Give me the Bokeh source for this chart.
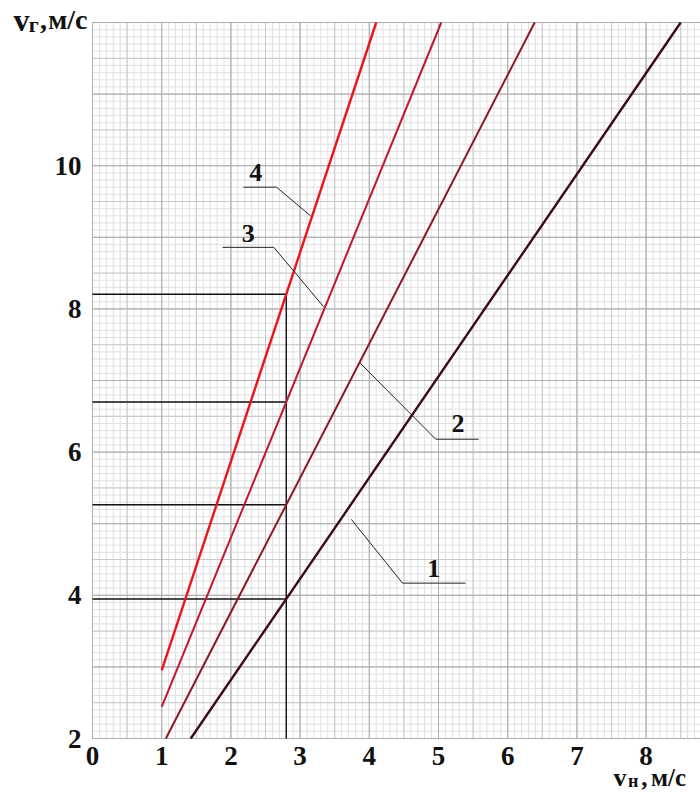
from bokeh.plotting import figure
from bokeh.models import Range1d, Label, ColumnDataSource
from bokeh.core.properties import value
from bokeh.embed import file_html
from bokeh.resources import INLINE

# Characteristic lines v_г(v_н): start and end points of each straight line
curve_ids = ["1", "2", "3", "4"]
v_n_start = [1.42, 1.06, 1.00, 1.00]
v_g_start = [2.00, 2.00, 2.44, 2.95]
v_n_end = [8.50, 6.39, 5.04, 4.10]
v_g_end = [12.00, 12.00, 12.00, 12.00]
curve_colors = ["#3a0b16", "#8a1828", "#c0182c", "#e8161c"]
curve_widths = [2.4, 2.0, 2.0, 2.4]

# Read-out at a chosen v_н
v_n_read = 2.8

x_ticks = [0, 1, 2, 3, 4, 5, 6, 7, 8]
y_ticks = [2, 4, 6, 8, 10]

# Paper area in data units
X_MIN, X_MAX = 0.0, 8.786
Y_MIN, Y_MAX = 2.0, 12.0
# Plot margins in pixels and scale (px per unit)
PX_X, PX_Y = 69.2, 71.6
LEFT, RIGHT, TOP, BOTTOM = 92, 0, 22, 55
SERIF = "Liberation Serif"
INK = "#111111"

p = figure(width=700, height=793,
           x_range=Range1d(X_MIN - LEFT / PX_X, X_MAX + RIGHT / PX_X),
           y_range=Range1d(Y_MIN - BOTTOM / PX_Y, Y_MAX + TOP / PX_Y),
           x_axis_type=None, y_axis_type=None,
           output_backend="svg", toolbar_location=None,
           min_border=0)
p.outline_line_color = None
p.grid.visible = False
p.background_fill_color = "white"
p.border_fill_color = "white"

# Millimetre-paper grid: fine 0.1, medium 0.5, bold 1.0
fine_x = [round(i * 0.1, 2) for i in range(0, 88)]
fine_y = [round(2 + i * 0.1, 2) for i in range(0, 101)]
mid_x = [round(i * 0.5, 2) for i in range(0, 18)]
mid_y = [round(2 + i * 0.5, 2) for i in range(0, 21)]
major_x = list(range(0, 9))
major_y = list(range(2, 13))

for gx, gy, color in ((fine_x, fine_y, "#e0e0e0"),
                      (mid_x, mid_y, "#c9c9c9"),
                      (major_x, major_y, "#aeaeae")):
    p.segment(x0=gx, y0=[Y_MIN] * len(gx), x1=gx, y1=[Y_MAX] * len(gx),
              line_color=color, line_width=1)
    p.segment(x0=[X_MIN] * len(gy), y0=gy, x1=[X_MAX] * len(gy), y1=gy,
              line_color=color, line_width=1)

# Tick labels
p.text(x=x_ticks, y=[Y_MIN] * len(x_ticks), text=[str(t) for t in x_ticks],
       text_font=value(SERIF), text_font_style="bold", text_font_size="27px",
       text_color=INK, text_align="center", text_baseline="top", y_offset=8)
p.text(x=[X_MIN] * len(y_ticks), y=y_ticks, text=[str(t) for t in y_ticks],
       text_font=value(SERIF), text_font_style="bold", text_font_size="27px",
       text_color=INK, text_align="right", text_baseline="middle", x_offset=-11)

# Read-out lines
slopes = [(ge - gs) / (ne - ns) for ns, gs, ne, ge in zip(v_n_start, v_g_start, v_n_end, v_g_end)]
v_g_read = [gs + k * (v_n_read - ns) for ns, gs, k in zip(v_n_start, v_g_start, slopes)]
p.segment(x0=[X_MIN] * 4, y0=v_g_read, x1=[v_n_read] * 4, y1=v_g_read,
          line_color=INK, line_width=1.4)
p.segment(x0=[v_n_read], y0=[Y_MIN], x1=[v_n_read], y1=[max(v_g_read)],
          line_color=INK, line_width=1.4)

# Characteristic lines
src = ColumnDataSource(dict(x0=v_n_start, y0=v_g_start, x1=v_n_end, y1=v_g_end,
                            color=curve_colors, width=curve_widths))
p.segment(x0="x0", y0="y0", x1="x1", y1="y1", source=src,
          line_color="color", line_width="width")

# Leader lines and curve numbers
leaders = {
    "4": ([2.18, 2.66, 3.15], [9.70, 9.70, 9.30], (2.36, 9.90)),
    "3": ([1.88, 2.62, 3.34], [8.86, 8.86, 8.03], (2.25, 9.05)),
    "2": ([3.86, 4.96, 5.58], [7.25, 6.18, 6.18], (5.28, 6.40)),
    "1": ([3.74, 4.48, 5.39], [5.06, 4.17, 4.17], (4.93, 4.37)),
}
for name, (lx, ly, (tx, ty)) in leaders.items():
    p.line(lx, ly, line_color="#222222", line_width=1)
    p.add_layout(Label(x=tx, y=ty, text=name, text_font=SERIF,
                       text_font_style="bold", text_font_size="26px",
                       text_color=INK, text_align="center",
                       text_baseline="middle"))


def add_text(x, y, text, size):
    p.add_layout(Label(x=x, y=y, text=text, text_font=SERIF,
                       text_font_style="bold", text_font_size=size,
                       text_color=INK, text_align="left",
                       text_baseline="alphabetic"))


# Axis titles: v_г, м/с (vertical) and v_н, м/с (horizontal)
add_text(-1.14, 12.04, "v", "32px")
add_text(-0.92, 11.97, "г", "22px")
add_text(-0.76, 12.04, ",", "28px")
add_text(-0.64, 12.04, "м/с", "28px")

add_text(7.53, 1.45, "v", "26px")
add_text(7.74, 1.40, "н", "18px")
add_text(7.93, 1.45, ",", "25px")
add_text(8.07, 1.45, "м/с", "25px")

open("out.html", "w").write(file_html(p, INLINE))
